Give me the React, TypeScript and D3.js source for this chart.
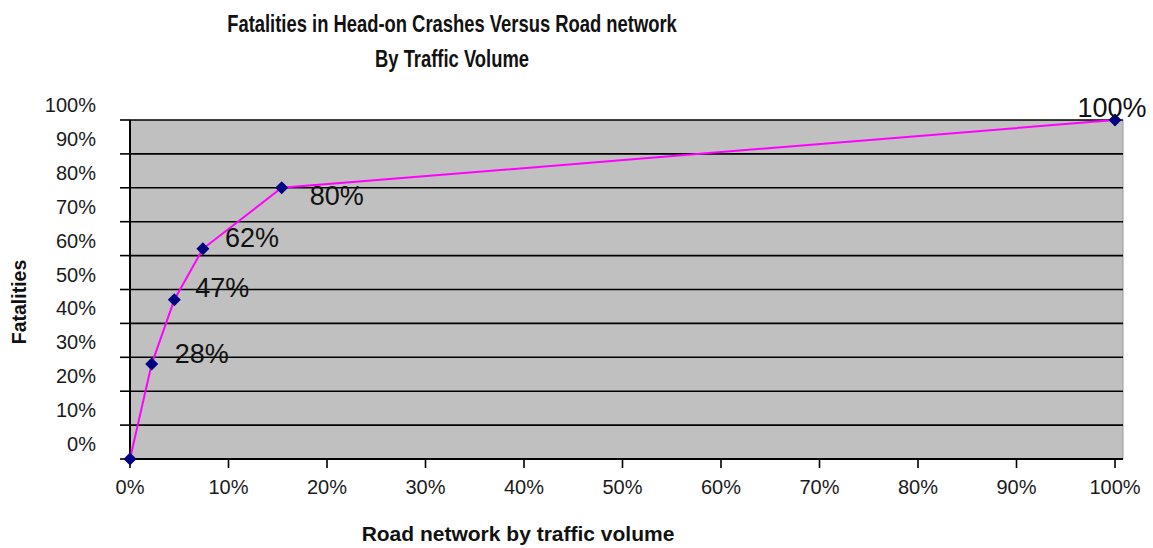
import React from "react";
import * as d3 from "d3";

// Share of the road network (by traffic volume) vs cumulative share of head-on fatalities
const networkShare: number[] = [0, 2.2, 4.5, 7.4, 15.4, 100];
const fatalityShare: number[] = [0, 28, 47, 62, 80, 100];
const pointLabels: string[] = ["", "28%", "47%", "62%", "80%", "100%"];

const xTicks: number[] = [0, 10, 20, 30, 40, 50, 60, 70, 80, 90, 100];
const yTicks: number[] = [0, 10, 20, 30, 40, 50, 60, 70, 80, 90, 100];

const titleLines: string[] = [
  "Fatalities in Head-on Crashes Versus Road network",
  "By Traffic Volume",
];
const xTitle = "Road network by traffic volume";
const yTitle = "Fatalities";

// Label placement relative to each point: [dx, dy, anchor]
const labelPlacement: [number, number, string][] = [
  [0, 0, "start"],
  [23, -11, "start"],
  [21, -12, "start"],
  [22, -11, "start"],
  [28, 8, "start"],
  [-3, -13, "middle"],
];

const W = 1153;
const H = 548;
const FONT = "'Liberation Sans', Arial, Helvetica, sans-serif";

export default function App() {
  const left = 130;
  const top = 120;
  const bottom = 459;
  const plotRight = 1123;

  const x = d3.scaleLinear().domain([0, 100]).range([left, 1115]);
  const y = d3.scaleLinear().domain([0, 100]).range([bottom, top]);

  const points = networkShare.map((v, i) => [v, fatalityShare[i]] as [number, number]);
  const line = d3
    .line<[number, number]>()
    .x((d) => x(d[0]))
    .y((d) => y(d[1]));

  const diamond = (cx: number, cy: number, r: number) =>
    `M${cx},${cy - r}L${cx + r},${cy}L${cx},${cy + r}L${cx - r},${cy}Z`;

  return (
    <svg
      width={W}
      height={H}
      viewBox={`0 0 ${W} ${H}`}
      style={{ position: "absolute", left: 0, top: 0, background: "#ffffff", display: "block" }}
      fontFamily={FONT}
    >
      <rect x={0} y={0} width={W} height={H} fill="#ffffff" />

      {/* title */}
      <g transform="translate(452,0) scale(0.8,1)">
        <text x={0} y={32} textAnchor="middle" fontSize={23} fontWeight="bold" fill="#111">
          {titleLines[0]}
        </text>
        <text x={0} y={67} textAnchor="middle" fontSize={23} fontWeight="bold" fill="#111">
          {titleLines[1]}
        </text>
      </g>

      {/* plot area */}
      <rect x={left} y={top} width={plotRight - left} height={bottom - top} fill="#c0c0c0" />
      <line x1={plotRight} x2={plotRight} y1={top} y2={bottom} stroke="#9a9a9a" strokeWidth={1} />

      {/* horizontal gridlines */}
      {yTicks.map((t) => (
        <line
          key={`g${t}`}
          x1={left}
          x2={plotRight}
          y1={y(t)}
          y2={y(t)}
          stroke="#000"
          strokeWidth={1.6}
        />
      ))}

      {/* axes */}
      <line x1={left} x2={left} y1={top} y2={bottom} stroke="#000" strokeWidth={2} />
      <line x1={left} x2={plotRight} y1={bottom} y2={bottom} stroke="#000" strokeWidth={2} />

      {/* y ticks and labels */}
      {yTicks.map((t) => (
        <g key={`y${t}`}>
          <line x1={left - 10} x2={left} y1={y(t)} y2={y(t)} stroke="#000" strokeWidth={1.6} />
          <text x={96} y={y(t) - 15 + 7} textAnchor="end" fontSize={20} fill="#1a1a1a">
            {`${t}%`}
          </text>
        </g>
      ))}

      {/* x ticks and labels */}
      {xTicks.map((t) => (
        <g key={`x${t}`}>
          <line x1={x(t)} x2={x(t)} y1={bottom} y2={bottom + 9} stroke="#000" strokeWidth={1.6} />
          <text x={x(t)} y={494} textAnchor="middle" fontSize={20} fill="#1a1a1a">
            {`${t}%`}
          </text>
        </g>
      ))}

      {/* axis titles */}
      <text x={518} y={541} textAnchor="middle" fontSize={21} fontWeight="bold" fill="#111">
        {xTitle}
      </text>
      <text
        transform="translate(26,302) rotate(-90)"
        textAnchor="middle"
        fontSize={19.5}
        fontWeight="bold"
        fill="#111"
      >
        {yTitle}
      </text>

      {/* cumulative curve */}
      <path d={line(points) || ""} fill="none" stroke="#ff00ff" strokeWidth={2} />

      {points.map((p, i) => (
        <path key={`m${i}`} d={diamond(x(p[0]), y(p[1]), 6.5)} fill="#000080" />
      ))}

      {/* value labels */}
      {points.map((p, i) =>
        pointLabels[i] ? (
          <text
            key={`l${i}`}
            x={x(p[0]) + labelPlacement[i][0]}
            y={y(p[1]) + labelPlacement[i][1] + 9.5}
            textAnchor={labelPlacement[i][2] as any}
            fontSize={27}
            fill="#111"
          >
            {pointLabels[i]}
          </text>
        ) : null
      )}
    </svg>
  );
}
